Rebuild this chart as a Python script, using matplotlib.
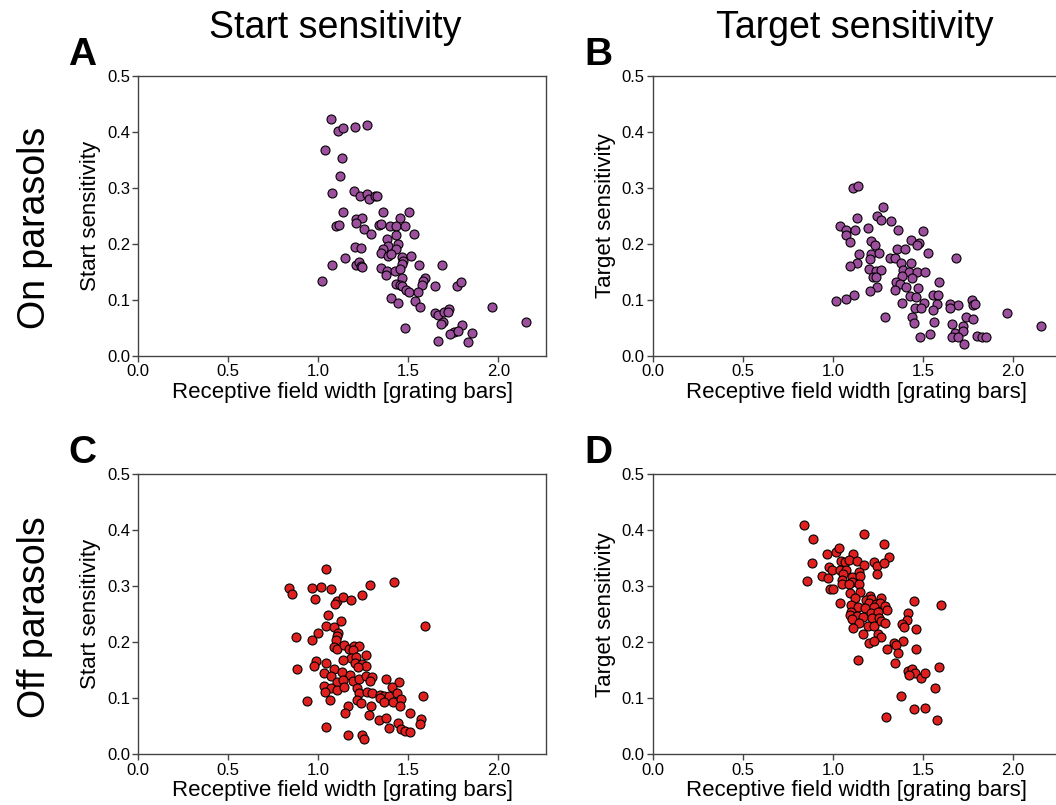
import numpy as np
import matplotlib
matplotlib.use("Agg")
import matplotlib.pyplot as plt

plt.rcParams['font.family'] = ['Liberation Sans', 'DejaVu Sans']

# Panel A: On parasols, start sensitivity
a_x = [1.069, 1.111, 1.139, 1.206, 1.271, 1.039, 1.132, 1.121, 1.074, 1.197, 1.234, 1.269,
       1.282, 1.317, 1.326, 1.137, 1.359, 1.502, 1.211, 1.244, 1.456, 1.209, 1.098, 1.113,
       1.335, 1.348, 1.400, 1.433, 1.482, 1.256, 1.294, 1.433, 1.532, 1.382, 1.441, 1.387,
       1.206, 1.237, 1.359, 1.432, 1.347, 1.389, 1.402, 1.465, 1.515, 1.472, 1.465, 1.147,
       1.074, 1.208, 1.224, 1.237, 1.243, 1.558, 1.687, 1.350, 1.383, 1.426, 1.454, 1.378,
       1.463, 1.593, 1.583, 1.578, 1.019, 1.432, 1.454, 1.465, 1.487, 1.506, 1.552, 1.648,
       1.772, 1.791, 1.402, 1.441, 1.537, 1.565, 1.965, 1.648, 1.663, 1.698, 1.728, 1.719,
       1.693, 1.682, 2.156, 1.800, 1.483, 1.752, 1.733, 1.778, 1.852, 1.665, 1.833]
a_y = [0.423, 0.402, 0.407, 0.409, 0.413, 0.368, 0.353, 0.322, 0.291, 0.294, 0.286, 0.289,
       0.280, 0.286, 0.285, 0.256, 0.257, 0.256, 0.245, 0.246, 0.246, 0.238, 0.231, 0.234,
       0.233, 0.236, 0.232, 0.232, 0.231, 0.226, 0.217, 0.216, 0.217, 0.208, 0.200, 0.196,
       0.194, 0.192, 0.191, 0.191, 0.184, 0.179, 0.181, 0.177, 0.179, 0.169, 0.164, 0.174,
       0.162, 0.163, 0.168, 0.161, 0.159, 0.163, 0.163, 0.156, 0.152, 0.151, 0.155, 0.144,
       0.138, 0.139, 0.134, 0.126, 0.134, 0.129, 0.126, 0.124, 0.117, 0.113, 0.113, 0.125,
       0.125, 0.131, 0.104, 0.094, 0.097, 0.087, 0.087, 0.077, 0.073, 0.079, 0.083, 0.078,
       0.060, 0.057, 0.061, 0.055, 0.049, 0.043, 0.038, 0.044, 0.041, 0.027, 0.024]

# Panel B: On parasols, target sensitivity
b_x = [1.109, 1.137, 1.280, 1.135, 1.243, 1.267, 1.324, 1.037, 1.071, 1.121, 1.196, 1.359,
       1.502, 1.072, 1.096, 1.211, 1.233, 1.432, 1.476, 1.469, 1.357, 1.400, 1.144, 1.209,
       1.256, 1.530, 1.683, 1.317, 1.344, 1.204, 1.378, 1.432, 1.135, 1.096, 1.200, 1.237,
       1.269, 1.387, 1.421, 1.465, 1.511, 1.222, 1.237, 1.382, 1.437, 1.348, 1.372, 1.591,
       1.404, 1.474, 1.243, 1.204, 1.344, 1.426, 1.459, 1.554, 1.583, 1.115, 1.070, 1.017,
       1.385, 1.504, 1.576, 1.648, 1.696, 1.652, 1.770, 1.780, 1.789, 1.454, 1.489, 1.556,
       1.967, 1.291, 1.441, 1.739, 1.776, 1.450, 1.563, 1.663, 1.720, 2.156, 1.678, 1.722,
       1.663, 1.694, 1.482, 1.537, 1.802, 1.830, 1.852, 1.730]
b_y = [0.299, 0.304, 0.266, 0.246, 0.249, 0.243, 0.241, 0.232, 0.225, 0.225, 0.229, 0.224,
       0.223, 0.216, 0.203, 0.205, 0.197, 0.206, 0.201, 0.198, 0.191, 0.190, 0.182, 0.182,
       0.184, 0.183, 0.174, 0.175, 0.175, 0.172, 0.166, 0.166, 0.165, 0.160, 0.155, 0.152,
       0.154, 0.153, 0.149, 0.149, 0.149, 0.140, 0.141, 0.143, 0.139, 0.131, 0.129, 0.131,
       0.122, 0.121, 0.123, 0.115, 0.118, 0.107, 0.105, 0.108, 0.108, 0.108, 0.101, 0.097,
       0.095, 0.095, 0.093, 0.093, 0.090, 0.086, 0.100, 0.090, 0.093, 0.086, 0.086, 0.081,
       0.076, 0.070, 0.070, 0.070, 0.065, 0.059, 0.060, 0.056, 0.053, 0.054, 0.040, 0.044,
       0.034, 0.034, 0.034, 0.039, 0.036, 0.034, 0.033, 0.021]

# Panel C: Off parasols, start sensitivity
c_x = [1.044, 0.837, 0.852, 0.965, 1.013, 1.071, 0.980, 1.287, 1.421, 1.102, 1.091, 1.139,
       1.182, 1.244, 1.054, 1.128, 1.041, 1.087, 1.593, 0.997, 0.878, 0.965, 1.111, 1.104,
       1.098, 1.087, 1.102, 1.143, 1.172, 1.198, 1.224, 1.194, 1.182, 1.209, 1.263, 1.139,
       0.987, 0.976, 1.044, 1.202, 1.241, 1.265, 1.219, 0.882, 1.030, 1.087, 1.132, 1.174,
       1.072, 1.102, 1.139, 1.191, 1.226, 1.265, 1.298, 1.289, 1.378, 1.447, 1.033, 1.072,
       1.106, 1.143, 1.217, 1.036, 1.226, 1.271, 1.298, 1.343, 1.367, 1.391, 1.409, 1.437,
       1.582, 0.937, 1.063, 1.217, 1.239, 1.341, 1.363, 1.413, 1.459, 1.452, 1.167, 1.293,
       1.147, 1.280, 1.509, 1.336, 1.376, 1.444, 1.572, 1.565, 1.044, 1.393, 1.458, 1.482,
       1.509, 1.167, 1.244, 1.252]
c_y = [0.331, 0.298, 0.286, 0.298, 0.299, 0.295, 0.278, 0.302, 0.307, 0.274, 0.268, 0.281,
       0.276, 0.284, 0.248, 0.239, 0.229, 0.227, 0.230, 0.217, 0.210, 0.205, 0.216, 0.211,
       0.204, 0.192, 0.189, 0.196, 0.189, 0.193, 0.193, 0.186, 0.172, 0.174, 0.177, 0.168,
       0.166, 0.158, 0.164, 0.164, 0.161, 0.157, 0.156, 0.152, 0.146, 0.152, 0.147, 0.142,
       0.139, 0.130, 0.133, 0.131, 0.135, 0.140, 0.138, 0.131, 0.134, 0.129, 0.122, 0.118,
       0.115, 0.121, 0.119, 0.111, 0.109, 0.112, 0.109, 0.106, 0.104, 0.105, 0.121, 0.110,
       0.104, 0.095, 0.097, 0.097, 0.092, 0.101, 0.093, 0.094, 0.098, 0.086, 0.086, 0.087,
       0.074, 0.071, 0.074, 0.061, 0.064, 0.056, 0.063, 0.054, 0.049, 0.047, 0.045, 0.042,
       0.039, 0.034, 0.034, 0.027]

# Panel D: Off parasols, target sensitivity
d_x = [0.839, 0.887, 1.174, 1.285, 0.969, 1.017, 1.035, 1.109, 1.313, 0.882, 1.044, 1.067,
       1.091, 1.133, 1.174, 1.226, 1.246, 1.282, 0.979, 0.993, 1.039, 1.072, 1.143, 1.057,
       1.107, 1.152, 1.246, 0.939, 0.970, 0.856, 1.048, 1.104, 1.048, 1.087, 1.143, 0.983,
       0.998, 1.094, 1.150, 1.122, 1.206, 1.267, 1.041, 1.185, 1.211, 1.450, 1.598, 1.100,
       1.202, 1.239, 1.261, 1.141, 1.178, 1.229, 1.289, 1.300, 1.100, 1.211, 1.248, 1.415,
       1.094, 1.131, 1.169, 1.219, 1.257, 1.106, 1.411, 1.146, 1.196, 1.226, 1.265, 1.289,
       1.383, 1.396, 1.113, 1.461, 1.169, 1.252, 1.265, 1.202, 1.230, 1.341, 1.391, 1.302,
       1.350, 1.361, 1.463, 1.137, 1.346, 1.587, 1.415, 1.441, 1.456, 1.422, 1.487, 1.513,
       1.569, 1.380, 1.448, 1.513, 1.296, 1.578]
d_y = [0.409, 0.384, 0.393, 0.375, 0.358, 0.362, 0.368, 0.357, 0.353, 0.341, 0.346, 0.343,
       0.347, 0.346, 0.338, 0.344, 0.337, 0.342, 0.335, 0.330, 0.329, 0.330, 0.326, 0.322,
       0.317, 0.318, 0.322, 0.318, 0.315, 0.310, 0.311, 0.308, 0.304, 0.304, 0.304, 0.296,
       0.296, 0.289, 0.290, 0.280, 0.283, 0.280, 0.271, 0.276, 0.277, 0.274, 0.267, 0.267,
       0.270, 0.268, 0.271, 0.263, 0.261, 0.263, 0.265, 0.258, 0.254, 0.253, 0.255, 0.253,
       0.249, 0.247, 0.245, 0.243, 0.244, 0.242, 0.240, 0.234, 0.229, 0.229, 0.239, 0.235,
       0.233, 0.228, 0.226, 0.223, 0.215, 0.215, 0.209, 0.198, 0.202, 0.198, 0.202, 0.188,
       0.195, 0.181, 0.188, 0.168, 0.164, 0.156, 0.149, 0.152, 0.146, 0.141, 0.137, 0.146,
       0.119, 0.104, 0.081, 0.083, 0.066, 0.062]

purple = '#9c4f9c'
red = '#e0201e'
xlab = 'Receptive field width [grating bars]'

fig = plt.figure(figsize=(10.56, 8.05), dpi=100)

# axes boxes in figure fractions (right column runs off the right edge)
w, h = 0.3861, 0.3476
ax_a = fig.add_axes([0.131, 0.5581, w, h])
ax_b = fig.add_axes([0.6184, 0.5581, w, h])
ax_c = fig.add_axes([0.131, 0.0630, w, h])
ax_d = fig.add_axes([0.6184, 0.0630, w, h])

panels = [(ax_a, a_x, a_y, purple, 'Start sensitivity'),
          (ax_b, b_x, b_y, purple, 'Target sensitivity'),
          (ax_c, c_x, c_y, red, 'Start sensitivity'),
          (ax_d, d_x, d_y, red, 'Target sensitivity')]

for ax, x, y, col, ylab in panels:
    ax.scatter(x, y, s=42, c=col, edgecolors='black', linewidths=0.8, zorder=3)
    ax.set_xlim(0, 2.265)
    ax.set_ylim(0, 0.5)
    ax.set_xticks([0.0, 0.5, 1.0, 1.5, 2.0])
    ax.set_yticks([0.0, 0.1, 0.2, 0.3, 0.4, 0.5])
    ax.xaxis.set_major_formatter(matplotlib.ticker.FormatStrFormatter('%.1f'))
    ax.yaxis.set_major_formatter(matplotlib.ticker.FormatStrFormatter('%.1f'))
    ax.tick_params(labelsize=12, length=4, width=1, color='#444444', pad=2)
    for sp in ax.spines.values():
        sp.set_color('#444444')
        sp.set_linewidth(1)
    ax.set_xlabel(xlab, fontsize=16, labelpad=2)
    ax.set_ylabel(ylab, fontsize=16, labelpad=4)

# column titles
fig.text(335 / 1056, 1 - 28 / 805, 'Start sensitivity', fontsize=27, ha='center', va='center')
fig.text(855 / 1056, 1 - 28 / 805, 'Target sensitivity', fontsize=27, ha='center', va='center')

# row labels
fig.text(35 / 1056, 1 - 228 / 805, 'On parasols', fontsize=27, rotation=90, ha='center', va='center')
fig.text(35 / 1056, 1 - 617 / 805, 'Off parasols', fontsize=27, rotation=90, ha='center', va='center')

# panel letters
for lab, px, py in [('A', 82, 55), ('B', 598, 55), ('C', 82, 453), ('D', 598, 453)]:
    fig.text(px / 1056, 1 - py / 805, lab, fontsize=28, fontweight='bold', ha='center', va='center')

fig.savefig('out.png', dpi=100)
